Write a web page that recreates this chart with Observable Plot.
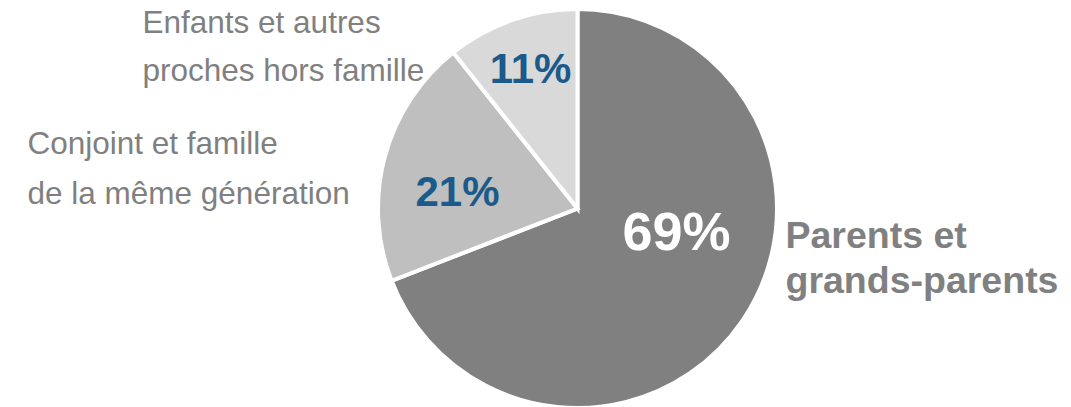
<!DOCTYPE html>
<html>
<head>
<meta charset="utf-8">
<script src="https://cdn.jsdelivr.net/npm/d3@7"></script>
<script src="https://cdn.jsdelivr.net/npm/@observablehq/plot@0.6"></script>
<style>
  html, body { margin: 0; padding: 0; background: #ffffff; }
  #chart { width: 1071px; height: 407px; }
</style>
</head>
<body>
<div id="chart"></div>
<script>
// ---- Data ----
const categories = [
  "Parents et\ngrands-parents",
  "Conjoint et famille\nde la même génération",
  "Enfants et autres\nproches hors famille"
];
const shares = [69.1, 20.2, 10.7];          // slice sizes
const pctLabels = ["69%", "21%", "11%"];     // printed percentages

// ---- Styles / layout (kept apart from data) ----
const sliceColors = ["#808080", "#bfbfbf", "#d9d9d9"];
const pie = { cx: 577.5, cy: 208.5, r: 199.5 };
const pctLayout = [
  { x: 676, y: 249, size: 54, color: "#ffffff" },
  { x: 457, y: 205, size: 42, color: "#1b5a8a" },
  { x: 530, y: 82, size: 42, color: "#1b5a8a" }
];
const catLayout = [
  { x: 785, y: 292, size: 37.5, weight: "bold", lh: 1.2 },
  { x: 27, y: 203, size: 31.5, weight: "normal", lh: 1.56 },
  { x: 142, y: 80, size: 31.5, weight: "normal", lh: 1.52 }
];

const rows = categories.map((c, i) => ({ category: c, share: shares[i], pct: pctLabels[i], i }));

const arcs = d3.pie().sort(null).value(d => d.share)(rows);

function pieSlices(index, scales) {
  const cx = scales.x(pie.cx), cy = scales.y(pie.cy);
  const r = scales.x(pie.cx + pie.r) - cx;
  const arc = d3.arc().innerRadius(0).outerRadius(r);
  const g = d3.create("svg:g").attr("transform", `translate(${cx},${cy})`);
  g.selectAll("path")
    .data(arcs)
    .join("path")
    .attr("d", arc)
    .attr("fill", (d, i) => sliceColors[i])
    .attr("stroke", "#ffffff")
    .attr("stroke-width", 4)
    .attr("stroke-linejoin", "miter");
  return g.node();
}

const textMarks = [];
rows.forEach((d, i) => {
  const c = catLayout[i], p = pctLayout[i];
  textMarks.push(Plot.text([d], {
    x: () => c.x, y: () => c.y, text: "category",
    textAnchor: "start", lineAnchor: "bottom", lineHeight: c.lh,
    fontSize: c.size, fontWeight: c.weight, fill: "#808080"
  }));
  textMarks.push(Plot.text([d], {
    x: () => p.x, y: () => p.y, text: "pct",
    textAnchor: "middle", lineAnchor: "bottom",
    fontSize: p.size, fontWeight: "bold", fill: p.color
  }));
});

const chart = Plot.plot({
  width: 1071,
  height: 407,
  margin: 0,
  style: { background: "#ffffff", fontFamily: "'Liberation Sans', Arial, sans-serif" },
  x: { domain: [0, 1071], range: [0, 1071], axis: null },
  y: { domain: [0, 407], range: [0, 407], axis: null },
  marks: [
    pieSlices,
    ...textMarks
  ]
});
document.getElementById("chart").appendChild(chart);
</script>
</body>
</html>
